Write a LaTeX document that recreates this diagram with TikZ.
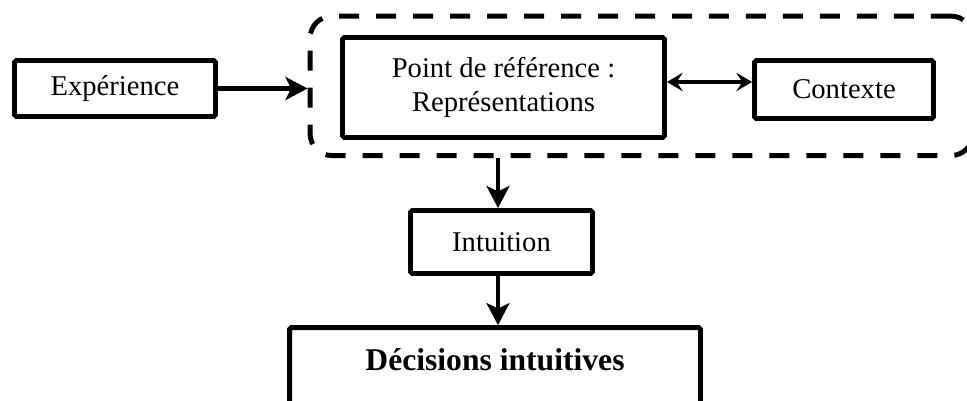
\documentclass[tikz,border=0pt]{standalone}
\usepackage{fontspec}
\setmainfont{Liberation Serif}
\usetikzlibrary{arrows.meta}

\begin{document}
\begin{tikzpicture}[x=0.02cm, y=0.02cm,
	box/.style={draw, line width=2.8pt, rounded corners=1pt, inner sep=0pt, align=center, font=\fontsize{16.3}{18.9}\selectfont},
	groupbox/.style={draw, line width=2.8pt, rounded corners=0.44cm, dash pattern=on 0.4cm off 0.34cm, inner sep=0pt},
	bigarrow/.style={line width=2.8pt, -{Stealth[length=12.5pt, width=13pt, inset=3pt]}},
	linkarrow/.style={line width=2pt, {Stealth[length=9pt, width=10.5pt, inset=3.5pt]}-{Stealth[length=9pt, width=10.5pt, inset=3.5pt]}}]
	
	\useasboundingbox (0,0) rectangle (967,401);
	\clip (0,0) rectangle (967,401);
	
	\node[groupbox, minimum width=13.26cm, minimum height=2.79cm] (group) at (641.5,315.15) {};
	
	\node[box, minimum width=4.02cm, minimum height=1.12cm] (exp) at (115,312.5) {Expérience};
	\node[box, minimum width=6.44cm, minimum height=2cm] (ref) at (503.5,313.5) {Point de référence :\\Représentations};
	\node[box, minimum width=3.58cm, minimum height=1.16cm] (ctx) at (844,311.5) {Contexte};
	\node[box, minimum width=3.64cm, minimum height=1.26cm] (intu) at (501.5,159) {Intuition};
	\node[box, anchor=base, minimum width=8.22cm, text height=24.4pt, text depth=28pt, font=\fontsize{18}{20}\selectfont\bfseries] (dec) at (495,30.5) {Décisions intuitives};
	
	
	\draw[bigarrow] (exp.east) -- (exp.east -| group.west);
	\draw[linkarrow] ([yshift=.11cm]ref.east) -- ([yshift=.11cm]ref.east -| ctx.west);
	
	\draw[bigarrow] ([xshift=-.07cm]intu.north |- group.south) -- ([xshift=-.07cm]intu.north);
	\draw[bigarrow] ([xshift=-.07cm]intu.south) -- ([xshift=-.07cm]intu.south |- dec.north);
	
\end{tikzpicture}
\end{document}
